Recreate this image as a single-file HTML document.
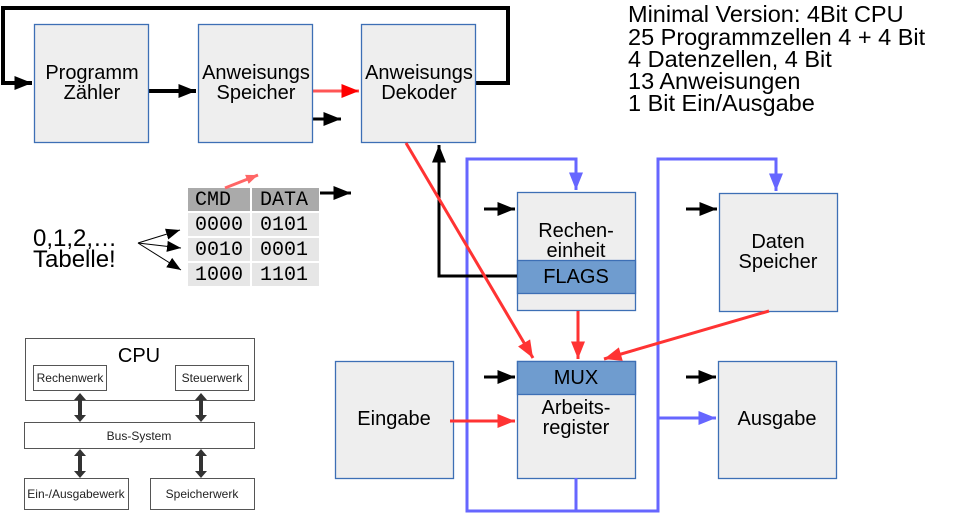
<!DOCTYPE html>
<html><head><meta charset="utf-8"><style>
body{margin:0;background:#fff}
svg{display:block;font-family:"Liberation Sans",sans-serif}
</style></head><body>
<svg width="958" height="514" viewBox="0 0 958 514" xmlns="http://www.w3.org/2000/svg">
<defs>
<marker id="k" viewBox="0 0 10 8" markerWidth="20" markerHeight="14" refX="10" refY="4" orient="auto" markerUnits="userSpaceOnUse"><path d="M0,0L10,4L0,8z" fill="#000"/></marker>
<marker id="r" viewBox="0 0 10 8" markerWidth="20" markerHeight="14" refX="10" refY="4" orient="auto" markerUnits="userSpaceOnUse"><path d="M0,0L10,4L0,8z" fill="#f33"/></marker>
<marker id="r2" viewBox="0 0 10 8" markerWidth="20" markerHeight="14" refX="10" refY="4" orient="auto" markerUnits="userSpaceOnUse"><path d="M0,0L10,4L0,8z" fill="#f00"/></marker>
<marker id="b" viewBox="0 0 10 8" markerWidth="20" markerHeight="14" refX="10" refY="4" orient="auto" markerUnits="userSpaceOnUse"><path d="M0,0L10,4L0,8z" fill="#6666ff"/></marker>
<marker id="sk" viewBox="0 0 10 8" markerWidth="14" markerHeight="12" refX="10" refY="4" orient="auto" markerUnits="userSpaceOnUse"><path d="M0,0L10,4L0,8z" fill="#000"/></marker>
<marker id="pk" viewBox="0 0 10 8" markerWidth="12" markerHeight="10" refX="10" refY="4" orient="auto" markerUnits="userSpaceOnUse"><path d="M0,0L10,4L0,8z" fill="#f66"/></marker>
</defs>

<path d="M475,83 H508 V8 H3 V83 H32" fill="none" stroke="#000" stroke-width="4" marker-end="url(#k)"/>
<line x1="149" y1="91" x2="196" y2="91" stroke="#000" stroke-width="4" marker-end="url(#k)"/>
<line x1="312" y1="91" x2="359" y2="91" stroke="#f55" stroke-width="3" marker-end="url(#r2)"/>
<line x1="311" y1="119" x2="341" y2="119" stroke="#000" stroke-width="3" marker-end="url(#k)"/>

<g fill="#eeeeee" stroke="#3d6fb5" stroke-width="1.3">
<rect x="34.5" y="24.5" width="114" height="118"/>
<rect x="198.5" y="24.5" width="114" height="118"/>
<rect x="361.5" y="24.5" width="114" height="118"/>
<rect x="517.5" y="192.5" width="118" height="118"/>
<rect x="719.5" y="193.5" width="118" height="118"/>
<rect x="517.5" y="361.5" width="118" height="117"/>
<rect x="718.5" y="361.5" width="118" height="117"/>
<rect x="335.5" y="361.5" width="118" height="117"/>
</g>
<g fill="#6f9ccf" stroke="#3d6fb5" stroke-width="1.3">
<rect x="517.5" y="260.5" width="118" height="33"/>
<rect x="517.5" y="361.5" width="118" height="33"/>
</g>

<g font-size="20" text-anchor="middle" fill="#000">
<text x="92" y="79">Programm</text><text x="92" y="99">Zähler</text>
<text x="256" y="79">Anweisungs</text><text x="256" y="99">Speicher</text>
<text x="419" y="79">Anweisungs</text><text x="419" y="99">Dekoder</text>
<text x="576" y="237">Rechen-</text><text x="576" y="257">einheit</text>
<text x="576" y="283">FLAGS</text>
<text x="778" y="248">Daten</text><text x="778" y="268">Speicher</text>
<text x="576" y="384">MUX</text>
<text x="576" y="414">Arbeits-</text><text x="576" y="434">register</text>
<text x="777" y="425">Ausgabe</text>
<text x="394" y="425">Eingabe</text>
</g>

<path d="M576,478 V511 H467 V159 H576 V190" fill="none" stroke="#6666ff" stroke-width="3" marker-end="url(#b)"/>
<path d="M576,511 H658 V159 H776 V191" fill="none" stroke="#6666ff" stroke-width="3" marker-end="url(#b)"/>
<line x1="658" y1="418" x2="716" y2="418" stroke="#6666ff" stroke-width="3" marker-end="url(#b)"/>

<path d="M517,276 H439 V145" fill="none" stroke="#000" stroke-width="3" marker-end="url(#k)"/>

<line x1="406" y1="143" x2="533" y2="358" stroke="#f33" stroke-width="3" marker-end="url(#r)"/>
<line x1="578" y1="311" x2="578" y2="359" stroke="#f33" stroke-width="3" marker-end="url(#r)"/>
<line x1="769" y1="311" x2="604" y2="359" stroke="#f33" stroke-width="3" marker-end="url(#r)"/>
<line x1="450" y1="421" x2="515" y2="421" stroke="#f33" stroke-width="3" marker-end="url(#r)"/>

<g stroke="#000" stroke-width="3">
<line x1="484" y1="209" x2="515" y2="209" marker-end="url(#k)"/>
<line x1="686" y1="209" x2="717" y2="209" marker-end="url(#k)"/>
<line x1="484" y1="377" x2="515" y2="377" marker-end="url(#k)"/>
<line x1="686" y1="377" x2="716" y2="377" marker-end="url(#k)"/>
<line x1="320" y1="193" x2="351" y2="193" marker-end="url(#k)"/>
</g>

<rect x="188" y="188" width="62" height="23" fill="#aaa"/>
<rect x="252" y="188" width="67" height="23" fill="#aaa"/>
<g fill="#e6e6e6">
<rect x="188" y="213" width="62" height="23"/><rect x="252" y="213" width="67" height="23"/>
<rect x="188" y="238" width="62" height="23"/><rect x="252" y="238" width="67" height="23"/>
<rect x="188" y="263" width="62" height="23"/><rect x="252" y="263" width="67" height="23"/>
</g>
<g font-family="Liberation Mono,monospace" font-size="20" fill="#000">
<text x="195" y="205">CMD</text><text x="260" y="205">DATA</text>
<text x="195" y="230">0000</text><text x="260" y="230">0101</text>
<text x="195" y="255">0010</text><text x="260" y="255">0001</text>
<text x="195" y="280">1000</text><text x="260" y="280">1101</text>
</g>
<line x1="225" y1="188" x2="258" y2="175" stroke="#f66" stroke-width="3" marker-end="url(#pk)"/>

<text x="33" y="246" font-size="24">0,1,2,…</text>
<text x="33" y="267" font-size="24">Tabelle!</text>
<g stroke="#000" stroke-width="1">
<line x1="138" y1="243" x2="180" y2="230" marker-end="url(#sk)"/>
<line x1="138" y1="243" x2="181" y2="248" marker-end="url(#sk)"/>
<line x1="138" y1="243" x2="181" y2="270" marker-end="url(#sk)"/>
</g>

<g fill="#fff" stroke="#555" stroke-width="1">
<rect x="25.5" y="338.5" width="229" height="62"/>
<rect x="33.5" y="365.5" width="73" height="25"/>
<rect x="175.5" y="365.5" width="73" height="25"/>
<rect x="24.5" y="422.5" width="230" height="26"/>
<rect x="24.5" y="478.5" width="104" height="31"/>
<rect x="150.5" y="478.5" width="104" height="31"/>
</g>
<text x="139" y="362" font-size="20" text-anchor="middle">CPU</text>
<g font-size="12" text-anchor="middle" fill="#222">
<text x="70" y="382">Rechenwerk</text>
<text x="212" y="382">Steuerwerk</text>
<text x="139" y="440">Bus-System</text>
<text x="76" y="498">Ein-/Ausgabewerk</text>
<text x="202" y="498">Speicherwerk</text>
</g>
<g fill="#333">
<path d="M80,393 l-6,7 h4 v15 h-4 l6,7 l6,-7 h-4 v-15 h4z"/>
<path d="M201,393 l-6,7 h4 v15 h-4 l6,7 l6,-7 h-4 v-15 h4z"/>
<path d="M80,449 l-6,7 h4 v15 h-4 l6,7 l6,-7 h-4 v-15 h4z"/>
<path d="M201,449 l-6,7 h4 v15 h-4 l6,7 l6,-7 h-4 v-15 h4z"/>
</g>

<g font-size="23.5" fill="#000">
<text x="628" y="22">Minimal Version: 4Bit CPU</text>
<text x="628" y="45">25 Programmzellen 4 + 4 Bit</text>
<text x="628" y="67">4 Datenzellen, 4 Bit</text>
<text x="628" y="89">13 Anweisungen</text>
<text x="628" y="111">1 Bit Ein/Ausgabe</text>
</g>
</svg>
</body></html>
